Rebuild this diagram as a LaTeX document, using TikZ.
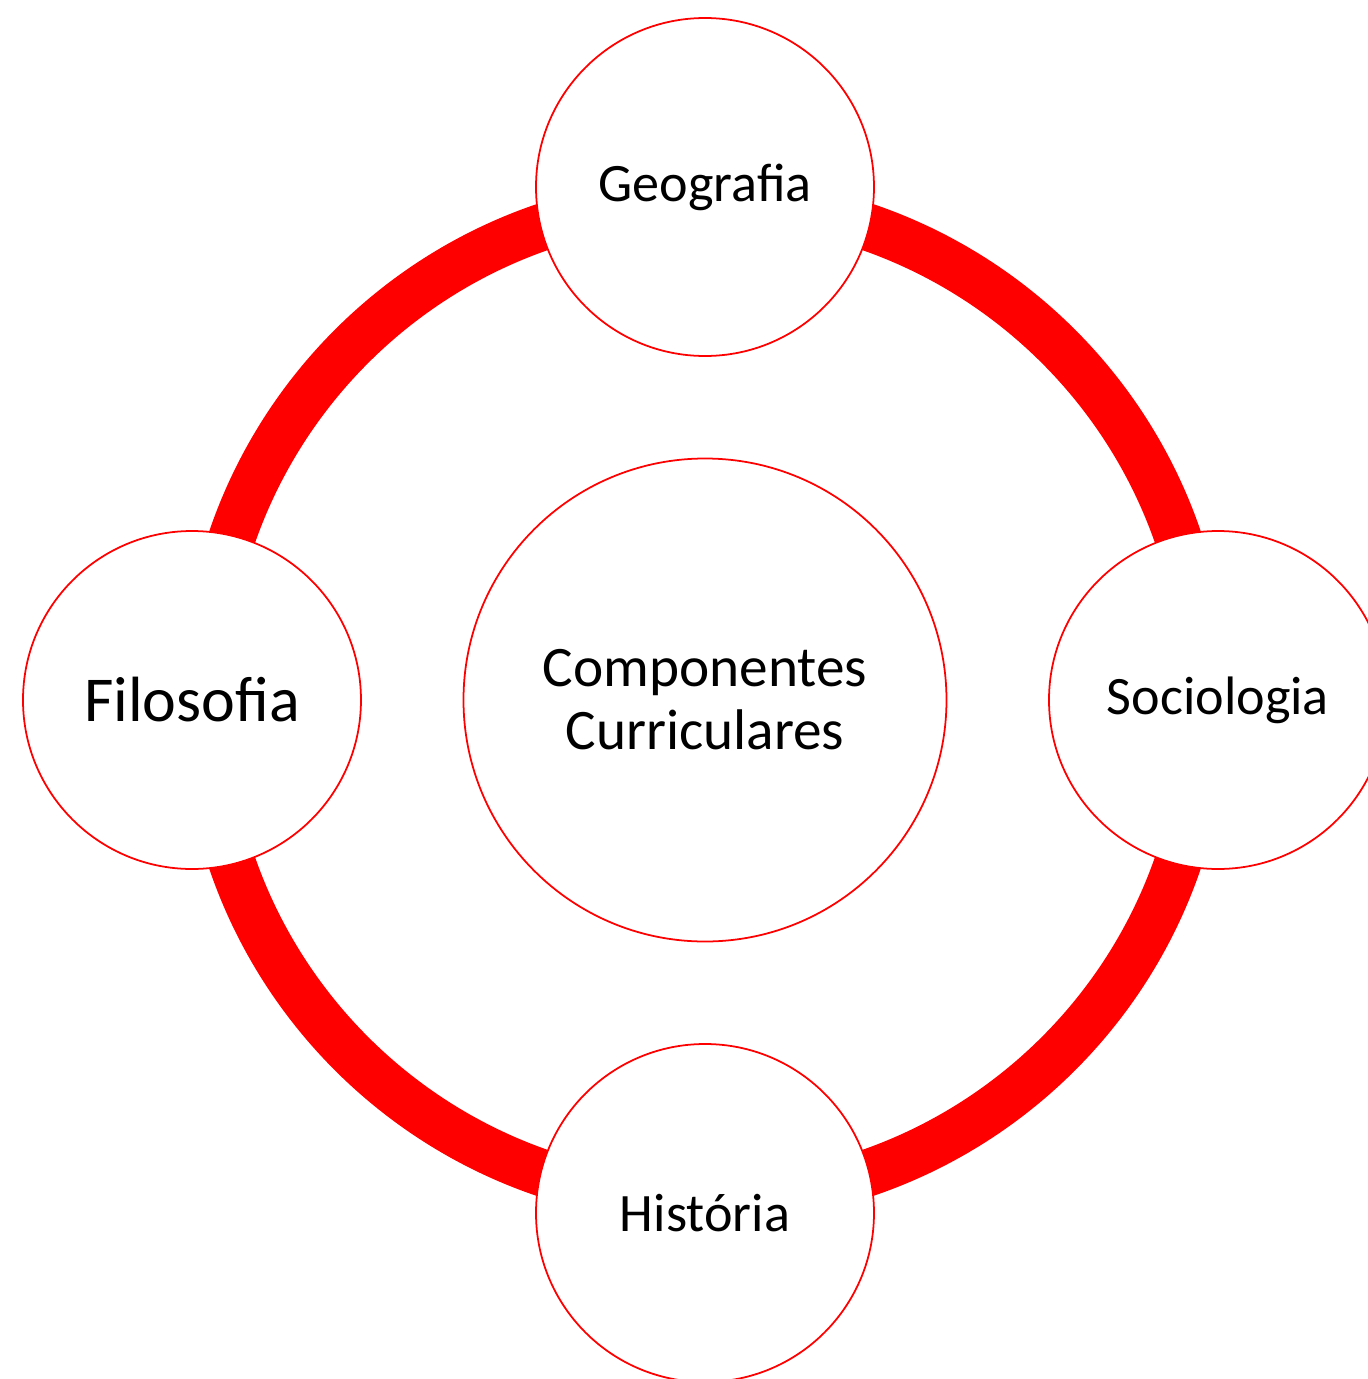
\documentclass[tikz,border=0pt]{standalone}
\usepackage{fontspec}
\setmainfont{Carlito}
\usetikzlibrary{calc}

\begin{document}
\begin{tikzpicture}
		\def\R{5.0};
		\def\d{5.13};
		
		\useasboundingbox (-7.05,-6.79) rectangle (6.63,7.00);
		
		\coordinate (centre) at (0,0);
		
		\draw [red, line width = 13.4pt] (centre) circle [radius = \R];
		
		\begin{scope}[every node/.style = {circle, draw = red, fill = white, line width = 0.5pt, inner sep = 0pt, minimum size = 3.38cm, font = \fontsize{15.4}{17}\selectfont}]
			\node (geografia) at (90:\d) {Geografia};
			\node (sociologia) at (0:\d) {Sociologia};
			\node (historia) at (-90:\d) {História};
			\node [font = \fontsize{18.2}{20}\selectfont] (filosofia) at (180:\d) {Filosofia};
			\node [minimum size = 4.83cm, align = center, font = \fontsize{16.3}{17.9}\selectfont] (componentes) at (centre) {Componentes\\Curriculares};
		\end{scope}
	\end{tikzpicture}
\end{document}
